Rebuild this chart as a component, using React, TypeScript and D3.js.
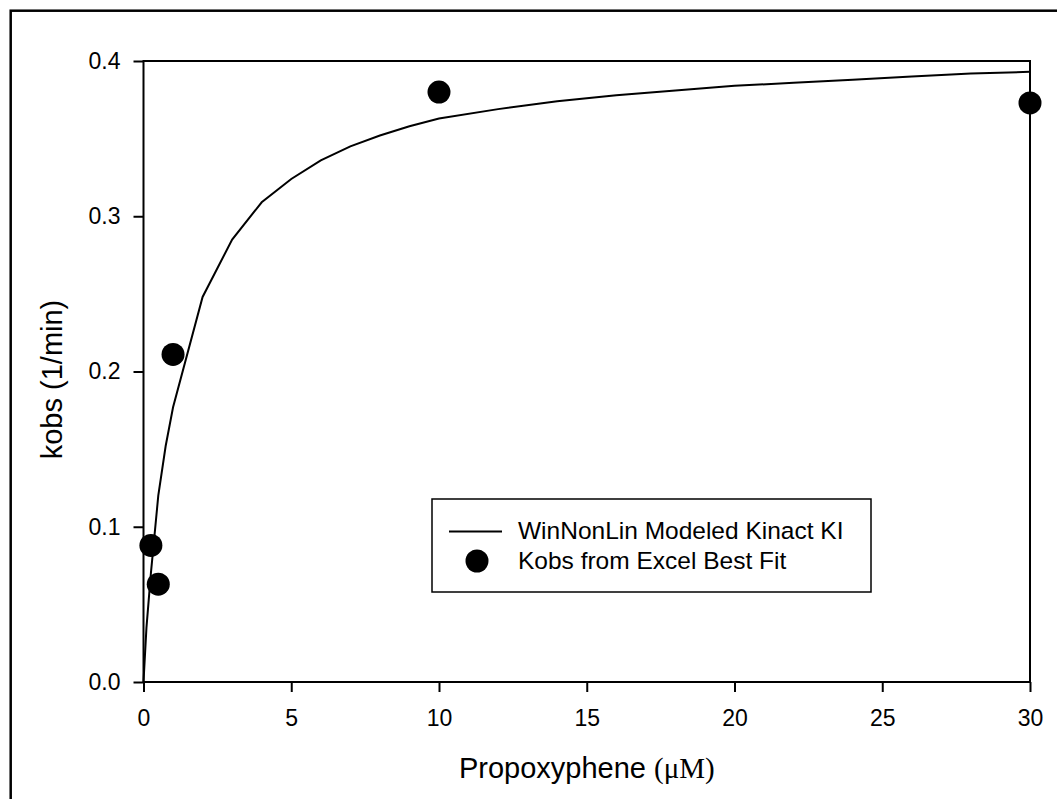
import React, { useEffect, useRef } from 'react';
import * as d3 from 'd3';

// model curve
const curveX = [0, 0.1, 0.25, 0.5, 0.75, 1, 2, 3, 4, 5, 6, 7, 8, 9, 10, 12, 14, 16, 18, 20, 22, 24, 26, 28, 30];
const curveY = [0, 0.035, 0.07, 0.12, 0.152, 0.177, 0.248, 0.285, 0.309, 0.324, 0.336, 0.345, 0.352, 0.358, 0.363, 0.369, 0.374, 0.378, 0.381, 0.384, 0.386, 0.388, 0.39, 0.392, 0.393];

// observed kobs
const obsX = [0.25, 0.5, 1, 10, 30];
const obsY = [0.088, 0.063, 0.211, 0.38, 0.373];

const xTicks = [0, 5, 10, 15, 20, 25, 30];
const yTicks = [0, 0.1, 0.2, 0.3, 0.4];

const lineLabel = 'WinNonLin Modeled Kinact KI';
const dotLabel = 'Kobs from Excel Best Fit';

const App = () => {
  const ref = useRef<SVGSVGElement>(null);

  useEffect(() => {
    const svg = d3.select(ref.current);
    svg.selectAll('*').remove();

    const font = 'Liberation Sans, Arial, sans-serif';
    const left = 143.5, right = 1030, top = 61, bottom = 682;

    const x = d3.scaleLinear().domain([0, 30]).range([left, right]);
    const y = d3.scaleLinear().domain([0, 0.4]).range([bottom, top]);

    // outer frame (right/bottom edges fall off the page)
    svg.append('rect')
      .attr('x', 10.7).attr('y', 10.7)
      .attr('width', 1100).attr('height', 900)
      .attr('fill', 'none').attr('stroke', '#000').attr('stroke-width', 2.5);

    // plot box
    svg.append('rect')
      .attr('x', left).attr('y', top)
      .attr('width', right - left).attr('height', bottom - top)
      .attr('fill', 'none').attr('stroke', '#000').attr('stroke-width', 2);

    // x axis
    const xAxis = svg.append('g')
      .attr('transform', `translate(0,${bottom})`)
      .call(d3.axisBottom(x).tickValues(xTicks).tickSize(10).tickPadding(18).tickFormat(d => String(d)));
    xAxis.select('.domain').remove();
    xAxis.selectAll('line').attr('stroke', '#000').attr('stroke-width', 2);
    xAxis.selectAll('text').attr('fill', '#000').style('font-family', font).style('font-size', '23px');

    // y axis
    const yAxis = svg.append('g')
      .attr('transform', `translate(${left},0)`)
      .call(d3.axisLeft(y).tickValues(yTicks).tickSize(10).tickPadding(13).tickFormat(d3.format('.1f')));
    yAxis.select('.domain').remove();
    yAxis.selectAll('line').attr('stroke', '#000').attr('stroke-width', 2);
    yAxis.selectAll('text').attr('fill', '#000').style('font-family', font).style('font-size', '23px');

    // model line
    const line = d3.line<number>()
      .x((_, i) => x(curveX[i]))
      .y(d => y(d));
    svg.append('path')
      .datum(curveY)
      .attr('d', line)
      .attr('fill', 'none')
      .attr('stroke', '#000')
      .attr('stroke-width', 2);

    // observed points
    svg.append('g')
      .selectAll('circle')
      .data(obsY)
      .join('circle')
      .attr('cx', (_, i) => x(obsX[i]))
      .attr('cy', d => y(d))
      .attr('r', 11.5)
      .attr('fill', '#000');

    // axis titles
    const xt = svg.append('text')
      .attr('x', (left + right) / 2)
      .attr('y', 778)
      .attr('text-anchor', 'middle')
      .style('font-family', font)
      .style('font-size', '29px')
      .attr('fill', '#000');
    xt.append('tspan').text('Propoxyphene ');
    xt.append('tspan').style('font-family', 'Liberation Serif, Times New Roman, serif').text('(\u03BCM)');

    svg.append('text')
      .attr('transform', `translate(62,${(top + bottom) / 2 + 8}) rotate(-90)`)
      .attr('text-anchor', 'middle')
      .style('font-family', font)
      .style('font-size', '29px')
      .attr('fill', '#000')
      .text('kobs (1/min)');

    // legend
    const lg = svg.append('g');
    lg.append('rect')
      .attr('x', 432).attr('y', 499)
      .attr('width', 439).attr('height', 93)
      .attr('fill', '#fff').attr('stroke', '#000').attr('stroke-width', 1.5);
    lg.append('line')
      .attr('x1', 449).attr('x2', 502)
      .attr('y1', 531.5).attr('y2', 531.5)
      .attr('stroke', '#000').attr('stroke-width', 2);
    lg.append('circle')
      .attr('cx', 477).attr('cy', 561)
      .attr('r', 11.5).attr('fill', '#000');
    lg.append('text')
      .attr('x', 518).attr('y', 539)
      .style('font-family', font).style('font-size', '24.5px')
      .attr('fill', '#000')
      .text(lineLabel);
    lg.append('text')
      .attr('x', 518).attr('y', 569)
      .style('font-family', font).style('font-size', '24.5px')
      .attr('fill', '#000')
      .text(dotLabel);
  }, []);

  return (
    <svg
      ref={ref}
      width={1057}
      height={799}
      style={{ position: 'absolute', left: 0, top: 0, background: '#fff' }}
    />
  );
};

export default App;
